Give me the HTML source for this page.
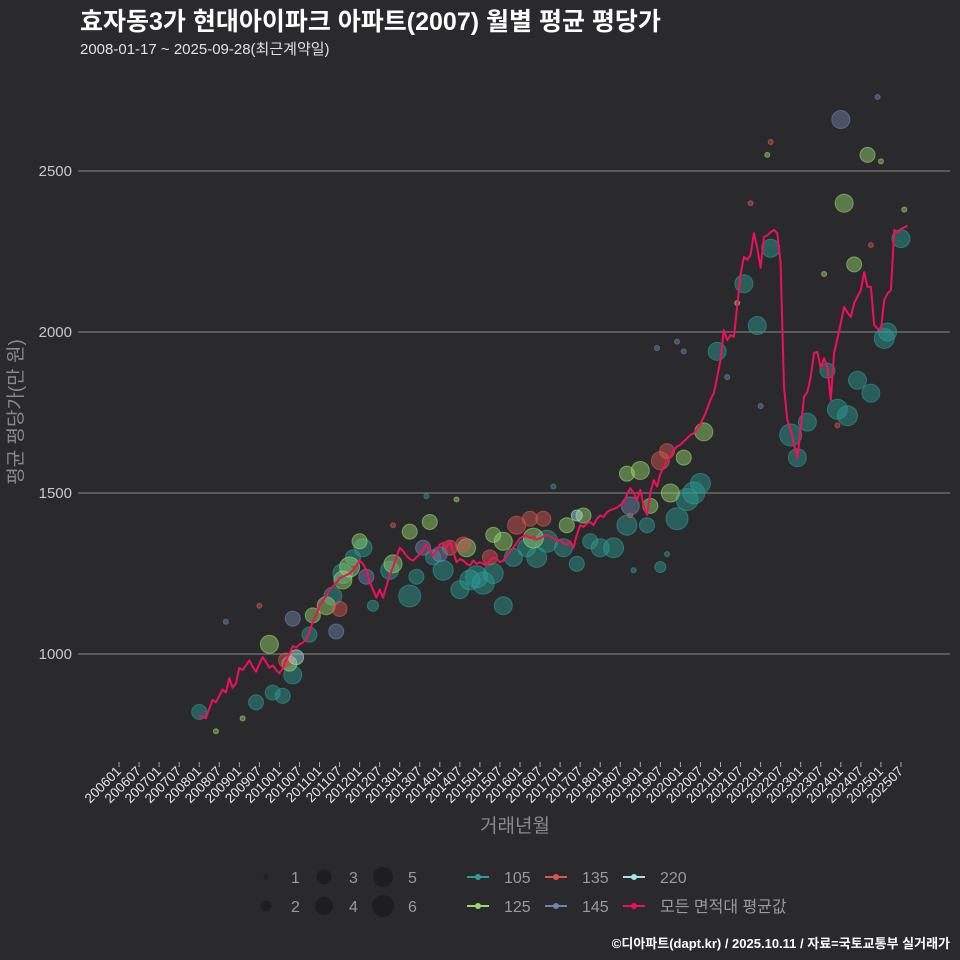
<!DOCTYPE html>
<html><head><meta charset="utf-8">
<style>
html,body{margin:0;padding:0;background:#2a2a2c;}
svg{display:block;font-family:"Liberation Sans","Noto Sans CJK KR",sans-serif;}
</style></head>
<body>
<svg id="chart" width="960" height="960" viewBox="0 0 960 960">
<rect width="960" height="960" fill="#2a2a2c"/>
<text x="80" y="30" fill="#ffffff" font-size="25" font-weight="bold">효자동3가 현대아이파크 아파트(2007) 월별 평균 평당가</text>
<text x="80" y="54" fill="#e0e0e0" font-size="15">2008-01-17 ~ 2025-09-28(최근계약일)</text>
<g id="grid"></g>
<g id="bubbles"></g>
<g id="line"></g>
<g id="xaxis"></g>
<text transform="translate(22,412) rotate(-90)" text-anchor="middle" fill="#8a8a8a" font-size="19">평균 평당가(만 원)</text>
<text x="515" y="832" text-anchor="middle" fill="#8a8a8a" font-size="19">거래년월</text>
<g id="legend"></g>
<text x="950" y="948" text-anchor="end" fill="#ffffff" font-size="13" font-weight="bold">©디아파트(dapt.kr) / 2025.10.11 / 자료=국토교통부 실거래가</text>
</svg>
<script>
const yTicks = [1000, 1500, 2000, 2500];
const xTickLabels = ["200601","200607","200701","200707","200801","200807","200901","200907","201001","201007","201101","201107","201201","201207","201301","201307","201401","201407","201501","201507","201601","201607","201701","201707","201801","201807","201901","201907","202001","202007","202101","202107","202201","202207","202301","202307","202401","202407","202501","202507"];
const lineStart = "2008-01";
const lineValues = [
810,805,800,830,857,850,870,890,880,925,895,910,
957,950,965,980,960,945,970,990,975,957,965,950,
940,955,980,1000,1025,1020,1030,1035,1045,1070,1100,1120,
1150,1165,1180,1200,1210,1220,1235,1240,1245,1250,1260,1275,
1290,1280,1260,1225,1200,1175,1200,1175,1210,1245,1270,1300,
1330,1320,1305,1295,1290,1300,1310,1325,1340,1320,1305,1320,
1340,1345,1330,1350,1320,1285,1295,1290,1280,1275,1290,1280,
1285,1280,1275,1290,1300,1295,1285,1290,1305,1317,1330,1345,
1360,1365,1370,1360,1365,1355,1360,1365,1370,1365,1360,1350,
1355,1345,1340,1350,1330,1370,1400,1395,1405,1410,1400,1420,
1430,1425,1440,1447,1450,1455,1463,1470,1495,1515,1500,1478,
1510,1460,1432,1500,1540,1520,1560,1580,1600,1610,1633,1645,
1650,1660,1670,1680,1686,1700,1715,1736,1760,1790,1810,1860,
1913,2006,1975,1990,1985,2080,2180,2233,2224,2240,2307,2260,
2199,2295,2300,2310,2317,2307,2214,1829,1727,1696,1650,1609,
1700,1798,1814,1860,1935,1938,1888,1919,1891,1789,1935,1980,
2028,2078,2060,2047,2090,2110,2130,2186,2140,2140,2022,2010,
2006,2099,2120,2130,2317,2310,2320,2325,2330];
const area105 = [["2008-01",820,3],["2009-06",850,3],["2009-11",880,3],["2010-02",870,3],["2010-05",935,4],["2010-10",1060,3],["2011-05",1180,4],["2011-08",1250,5],["2011-11",1300,3],["2012-02",1330,4],["2012-05",1150,2],["2012-10",1260,4],["2013-04",1180,6],["2013-06",1240,3],["2013-11",1300,3],["2014-02",1260,5],["2014-07",1200,4],["2014-10",1230,5],["2014-12",1240,6],["2015-02",1220,6],["2015-05",1250,5],["2015-08",1150,4],["2015-11",1300,4],["2016-03",1330,4],["2016-06",1300,5],["2016-09",1350,6],["2017-02",1330,4],["2017-06",1280,3],["2017-10",1350,3],["2018-01",1330,4],["2018-05",1330,5],["2018-09",1400,5],["2019-03",1400,3],["2019-07",1270,2],["2019-12",1420,6],["2020-03",1480,6],["2020-05",1500,6],["2020-07",1530,5],["2020-12",1940,4],["2021-08",2150,4],["2021-12",2020,4],["2022-04",2260,4],["2022-10",1680,6],["2022-12",1610,4],["2023-03",1720,4],["2023-09",1880,3],["2023-12",1760,5],["2024-03",1740,5],["2024-06",1850,4],["2024-10",1810,4],["2025-02",1980,5],["2025-03",2000,4],["2025-07",2290,4],["2018-11",1260,1],["2019-09",1310,1],["2013-09",1490,1],["2016-11",1520,1]];
const area125 = [["2008-06",760,1],["2009-02",800,1],["2009-10",1030,4],["2010-04",970,3],["2010-11",1120,3],["2011-03",1150,4],["2011-08",1230,4],["2011-10",1270,5],["2012-01",1350,3],["2012-11",1280,4],["2013-04",1380,3],["2013-10",1410,3],["2014-09",1330,4],["2015-05",1370,3],["2015-08",1350,4],["2016-05",1360,5],["2017-03",1400,3],["2017-08",1430,3],["2018-09",1560,3],["2019-01",1570,4],["2019-04",1460,3],["2019-10",1500,4],["2020-02",1610,3],["2020-08",1690,4],["2021-06",2090,1],["2023-08",2180,1],["2024-02",2400,4],["2024-05",2210,3],["2024-09",2550,3],["2025-01",2530,1],["2022-03",2550,1],["2025-08",2380,1],["2014-06",1480,1]];
const area135 = [["2010-03",980,3],["2011-07",1140,3],["2012-11",1400,1],["2014-04",1330,3],["2014-08",1340,3],["2015-04",1300,3],["2015-12",1400,4],["2016-04",1420,3],["2016-08",1420,3],["2018-10",1430,1],["2019-07",1600,4],["2019-09",1630,3],["2022-04",2590,1],["2021-10",2400,1],["2023-12",1710,1],["2024-10",2270,1],["2009-07",1150,1]];
const area145 = [["2008-09",1100,1],["2010-05",1110,3],["2011-06",1070,3],["2012-03",1240,3],["2013-08",1330,3],["2014-01",1310,3],["2018-10",1460,4],["2019-06",1950,1],["2019-12",1970,1],["2020-02",1940,1],["2024-01",2660,4],["2024-12",2730,1],["2022-01",1770,1],["2021-03",1860,1]];
const area220 = [["2010-06",990,3],["2017-06",1430,2]];

const NS="http://www.w3.org/2000/svg";
function mk(tag, attrs, parent){const e=document.createElementNS(NS,tag);for(const k in attrs)e.setAttribute(k,attrs[k]);parent.appendChild(e);return e;}
function yScale(v){return 654-(v-1000)*0.322;}
function monthIdx(s){const p=s.split("-");return (+p[0]-2006)*12+(+p[1]-1);}
function xScale(idx){return 119+idx*20.05/6;}
const rSize=[0,2.5,5.5,7.5,9,10,11];

const grid=document.getElementById("grid");
yTicks.forEach(t=>{
  const l=mk("line",{x1:78,x2:950,y1:yScale(t),y2:yScale(t),stroke:"#8a8a8a","stroke-width":1},grid);
  
  
  const tx=mk("text",{x:72,y:yScale(t)+5,"text-anchor":"end",fill:"#c8c8c8","font-size":15},grid);
  tx.textContent=t;
  
  
});
const xa=document.getElementById("xaxis");
xTickLabels.forEach((lab,i)=>{
  const x=xScale(i*6);
  const tk=mk("line",{x1:x,x2:x,y1:762,y2:767,stroke:"#aaaaaa","stroke-width":1},xa);
  
  
  const tx=mk("text",{transform:`translate(${x+3},772) rotate(-45)`,"text-anchor":"end",fill:"#e6e6e6","font-size":13.5},xa);
  tx.textContent=lab;
  
  
});

const bg=document.getElementById("bubbles");
const groups=[[area105,"#2a9d95","area-105"],[area125,"#98d96e","area-125"],[area135,"#d9574f","area-135"],[area145,"#7083aa","area-145"],[area220,"#a6e3e3","area-220"]];
groups.forEach(([arr,col,nm])=>{
  arr.forEach(d=>{
    const c=mk("circle",{cx:xScale(monthIdx(d[0])),cy:yScale(d[1]),r:rSize[d[2]],fill:col,"fill-opacity":0.45,stroke:col,"stroke-opacity":0.6,"stroke-width":1},bg);
    
    
  });
});
const lg=document.getElementById("line");
const s0=monthIdx(lineStart);
const pts=lineValues.map((v,i)=>xScale(s0+i).toFixed(1)+","+yScale(v).toFixed(1)).join(" ");
const pl=mk("polyline",{points:pts,fill:"none",stroke:"#f0105a","stroke-width":2,"stroke-linejoin":"round"},lg);



const leg=document.getElementById("legend");
const sizes=[[1,266,877],[2,266,906],[3,324,877],[4,324,906],[5,383,877],[6,383,906]];
sizes.forEach(([n,x,y])=>{
  const c=mk("circle",{cx:x,cy:y,r:rSize[n],fill:"#1e1e20"},leg);
  
  
  const t=mk("text",{x:x+25,y:y+6,fill:"#9a9a9a","font-size":16},leg);
  t.textContent=n;
  
  
});
const cols=[["105","#2a9d95",470,877],["125","#98d96e",470,906],["135","#d9574f",548,877],["145","#7083aa",548,906],["220","#a6e3e3",626,877],["모든 면적대 평균값","#f0105a",626,906]];
cols.forEach(([lab,col,x,y])=>{
  const l=mk("line",{x1:x-3,x2:x+19,y1:y,y2:y,stroke:col,"stroke-width":2},leg);
  
  
  const c=mk("circle",{cx:x+8,cy:y,r:3,fill:col},leg);
  
  
  const t=mk("text",{x:x+34,y:y+6,fill:"#9a9a9a","font-size":16},leg);
  t.textContent=lab;
  
  
});
</script>
</body></html>
